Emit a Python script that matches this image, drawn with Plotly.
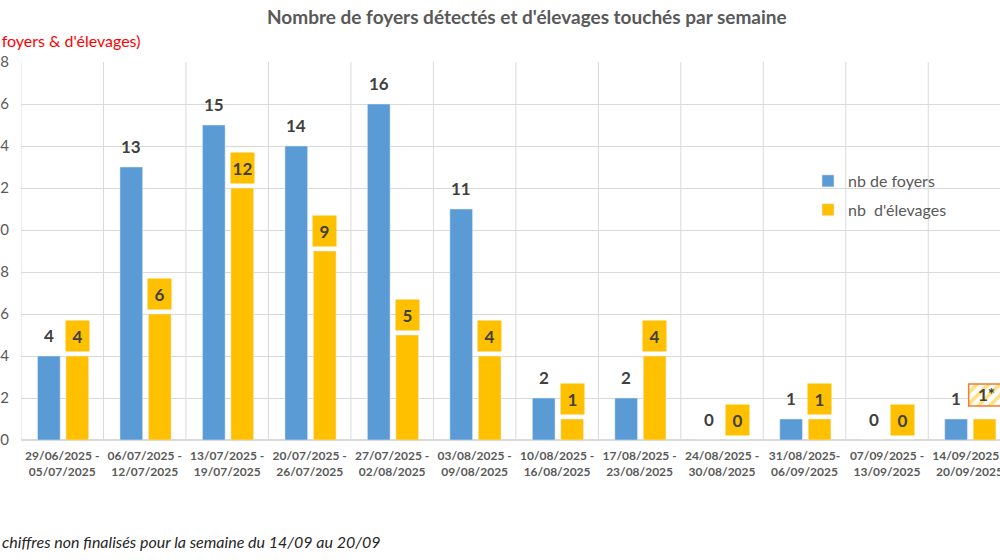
import plotly.graph_objects as go

weeks = ["29/06/2025 -<br>05/07/2025", "06/07/2025 -<br>12/07/2025", "13/07/2025 -<br>19/07/2025",
         "20/07/2025 -<br>26/07/2025", "27/07/2025 -<br>02/08/2025", "03/08/2025 -<br>09/08/2025",
         "10/08/2025 -<br>16/08/2025", "17/08/2025 -<br>23/08/2025", "24/08/2025 -<br>30/08/2025",
         "31/08/2025-<br>06/09/2025", "07/09/2025 -<br>13/09/2025", "14/09/2025 -<br>20/09/2025"]
foyers = [4, 13, 15, 14, 16, 11, 2, 2, 0, 1, 0, 1]
elevages = [4, 6, 12, 9, 5, 4, 1, 4, 0, 1, 0, 1]
elev_labels = ["4", "6", "12", "9", "5", "4", "1", "4", "0", "1", "0", "1*"]

BLUE = "#5B9BD5"
ORANGE = "#FFC000"
GRAY = "#595959"
LBL = "#404040"
FONT = "Lato, sans-serif"

W = 0.275
OFF_B = -0.30
OFF_O = 0.045

# plot area in pixels
L, R, T, B = 21, 1000, 62, 440
PW, PH = R - L, B - T

def px(x):
    return (x - L) / PW

def py(y):
    return (B - y) / PH

fig = go.Figure()
fig.add_bar(x=list(range(len(weeks))), y=foyers, name="nb de foyers", marker_color=BLUE,
            width=W, offset=OFF_B, legendgroup="a")
fig.add_bar(x=list(range(len(weeks))), y=elevages, name="nb  d'élevages", marker_color=ORANGE,
            width=W, offset=OFF_O, legendgroup="b")

# hatched label box for the non-finalised last week
last = len(weeks) - 1
fig.add_bar(x=[last], y=[1.05], base=[elevages[last] + 0.62], width=0.44, offset=-0.01,
            showlegend=False, hoverinfo="skip",
            marker=dict(color="white", line=dict(color="#ED7D31", width=1.5),
                        pattern=dict(shape="/", fgcolor=ORANGE, bgcolor="white", size=8, solidity=0.45)))

ann = []
for i, (f, e, lab) in enumerate(zip(foyers, elevages, elev_labels)):
    ann.append(dict(x=i + OFF_B + W / 2, y=f, xref="x", yref="y", text=str(f), showarrow=False,
                    yanchor="bottom", yshift=4, height=30,
                    font=dict(family=FONT, size=17, color=LBL, weight="bold")))
    if i == last:
        ann.append(dict(x=i - 0.01 + 0.22, y=e + 0.62 + 0.525, xref="x", yref="y", text=lab,
                        showarrow=False, font=dict(family=FONT, size=17, color=LBL, weight="bold")))
    else:
        ann.append(dict(x=i + OFF_O + W / 2, y=e, xref="x", yref="y", text=lab, showarrow=False,
                        yanchor="bottom", yshift=4, width=23, height=30, borderpad=0,
                        bgcolor=ORANGE, font=dict(family=FONT, size=17, color=LBL, weight="bold")))

ann.append(dict(x=px(527), y=py(17), xref="paper", yref="paper", xanchor="center", yanchor="middle",
                text="Nombre de foyers détectés et d'élevages touchés par semaine",
                showarrow=False, font=dict(family=FONT, size=19, color=GRAY, weight="bold")))
ann.append(dict(x=px(142), y=py(40), xref="paper", yref="paper", xanchor="right", yanchor="middle",
                text="(nb de foyers & d'élevages)", showarrow=False,
                font=dict(family=FONT, size=16, color="#FF0000")))
ann.append(dict(x=px(-10), y=py(541), xref="paper", yref="paper", xanchor="left", yanchor="middle",
                text="* chiffres non finalisés pour la semaine du 14/09 au 20/09", showarrow=False,
                font=dict(family=FONT, size=16, color="#262626", style="italic")))

fig.update_layout(
    width=1000, height=560,
    margin=dict(l=L, r=1000 - R, t=T, b=560 - B, autoexpand=False),
    plot_bgcolor="white", paper_bgcolor="white",
    showlegend=True,
    legend=dict(x=px(808), y=py(164), xanchor="left", yanchor="top",
                font=dict(family=FONT, size=16, color=GRAY), tracegroupgap=5,
                traceorder="grouped", bgcolor="rgba(0,0,0,0)"),
    annotations=ann,
    xaxis=dict(range=[-0.5, 11.37], tickvals=list(range(len(weeks))), ticktext=weeks,
               showgrid=False, zeroline=False, showline=False, automargin=False,
               ticklabeloverflow="allow", ticklabelstandoff=7,
               tickfont=dict(family=FONT, size=12, color=GRAY, weight="bold")),
    yaxis=dict(range=[0, 18], dtick=2, showgrid=True, gridcolor="#D9D9D9", gridwidth=1,
               zeroline=True, zerolinecolor="#D9D9D9", showline=False, automargin=False,
               ticklabelstandoff=11, ticklabeloverflow="allow",
               tickfont=dict(family=FONT, size=15, color=GRAY)),
)

# vertical category boundaries gridlines
for i in range(len(weeks) + 1):
    fig.add_shape(type="line", xref="x", yref="paper", x0=i - 0.5, x1=i - 0.5, y0=0, y1=1,
                  line=dict(color="#D9D9D9", width=1), layer="below")

fig.write_html("out.html", config={"displayModeBar": False},
               post_script="document.body.style.margin='0';")
